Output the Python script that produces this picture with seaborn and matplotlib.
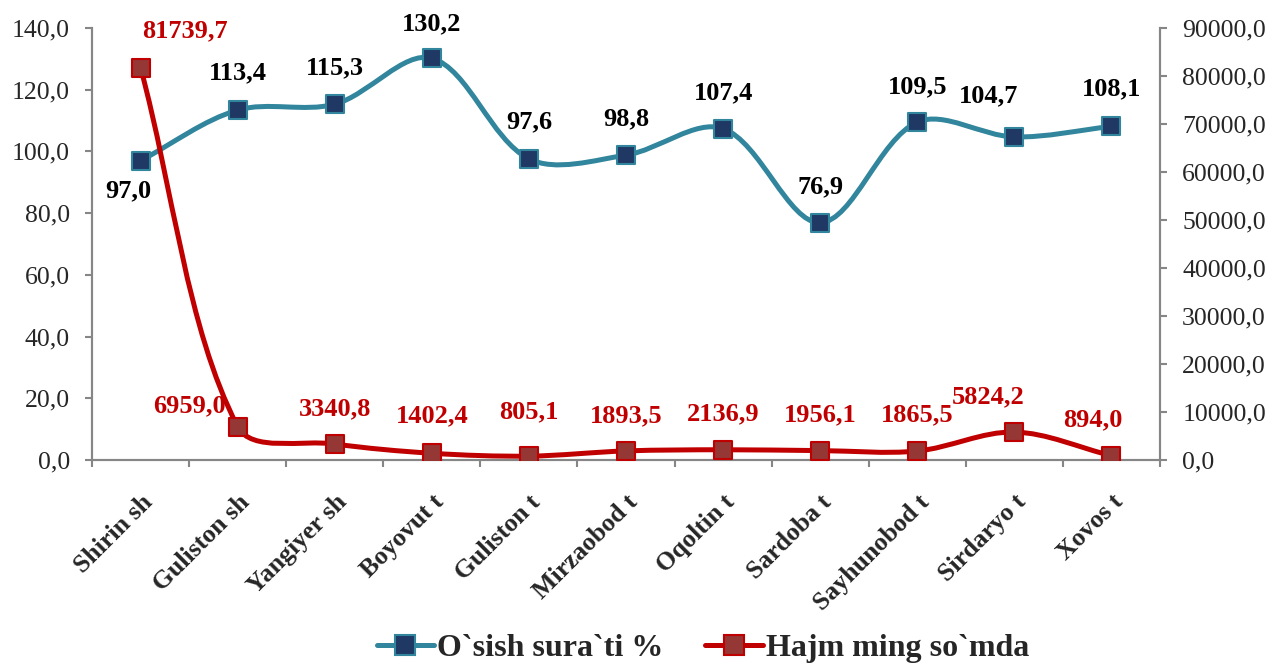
import numpy as np
import pandas as pd
import matplotlib
matplotlib.use("Agg")
import matplotlib.pyplot as plt
from matplotlib.path import Path
from matplotlib.patches import PathPatch
from matplotlib.lines import Line2D
import seaborn as sns

categories = ["Shirin sh", "Guliston sh", "Yangiyer sh", "Boyovut t", "Guliston t",
              "Mirzaobod t", "Oqoltin t", "Sardoba t", "Sayhunobod t", "Sirdaryo t", "Xovos t"]
growth = [97.0, 113.4, 115.3, 130.2, 97.6, 98.8, 107.4, 76.9, 109.5, 104.7, 108.1]
volume = [81739.7, 6959.0, 3340.8, 1402.4, 805.1, 1893.5, 2136.9, 1956.1, 1865.5, 5824.2, 894.0]
left_ticks = [0, 20, 40, 60, 80, 100, 120, 140]
right_ticks = [0, 10000, 20000, 30000, 40000, 50000, 60000, 70000, 80000, 90000]

sns.set_theme(style="white")
plt.rcParams['font.family'] = ['Liberation Serif', 'DejaVu Serif']

BLUE_LINE = "#31859C"
BLUE_FACE = "#1F3864"
RED_LINE = "#C00000"
RED_FACE = "#953735"
GRAY = "#868686"

fig = plt.figure(figsize=(12.71, 6.68), dpi=100)
ax = fig.add_axes([92/1271, 1-460/668, (1160-92)/1271, (460-28)/668])
ax2 = ax.twinx()

x = np.arange(len(categories))
ax.set_xlim(-0.5, len(categories)-0.5)
ax.set_ylim(0, 140)
ax2.set_ylim(0, 90000)


def smooth_patch(axis, xs, ys, color, lw):
    tr = axis.transData
    P = tr.transform(np.column_stack([xs, ys]))
    n = len(P)
    verts = [P[0]]
    codes = [Path.MOVETO]
    for i in range(n - 1):
        p0 = P[i - 1] if i > 0 else P[i]
        p1 = P[i]
        p2 = P[i + 1]
        p3 = P[i + 2] if i + 2 < n else P[i + 1]
        d01 = np.linalg.norm(p1 - p0)
        d12 = np.linalg.norm(p2 - p1)
        d23 = np.linalg.norm(p3 - p2)
        f1 = d12 / (d01 + d12) if (d01 + d12) > 0 else 0.5
        f2 = d12 / (d12 + d23) if (d12 + d23) > 0 else 0.5
        c1 = p1 + (p2 - p0) / 3.0 * f1
        c2 = p2 - (p3 - p1) / 3.0 * f2
        verts += [c1, c2, p2]
        codes += [Path.CURVE4] * 3
    verts = tr.inverted().transform(np.array(verts))
    patch = PathPatch(Path(verts, codes), facecolor="none", edgecolor=color,
                      lw=lw, capstyle="round", joinstyle="round", zorder=2)
    axis.add_patch(patch)


LW = 3.6
MS = 13

smooth_patch(ax, x, growth, BLUE_LINE, LW)
df1 = pd.DataFrame({"x": x, "y": growth})
sns.scatterplot(data=df1, x="x", y="y", ax=ax, marker="s", s=MS**2,
                color=BLUE_FACE, edgecolor=BLUE_LINE, linewidth=1.5, zorder=3, legend=False)

smooth_patch(ax2, x, volume, RED_LINE, LW)
df2 = pd.DataFrame({"x": x, "y": volume})
sns.scatterplot(data=df2, x="x", y="y", ax=ax2, marker="s", s=MS**2,
                color=RED_FACE, edgecolor=RED_LINE, linewidth=1.5, zorder=3, legend=False)

ax.set_xlim(-0.5, len(categories)-0.5)
ax.set_ylim(0, 140)
ax2.set_ylim(0, 90000)

fmt = lambda v: f"{v:.1f}".replace(".", ",")

# ticks
ax.set_yticks(left_ticks)
ax.set_yticklabels([fmt(v) for v in left_ticks], fontsize=18.5)
ax2.set_yticks(right_ticks)
ax2.set_yticklabels([fmt(v) for v in right_ticks], fontsize=18.5)
ax.set_xticks(x)
ax.set_xticklabels(categories, rotation=45, ha="right", va="top", rotation_mode="anchor",
                   fontsize=18.5, fontweight="bold")
ax.set_xticks(np.arange(-0.5, len(categories)), minor=True)
ax.tick_params(axis="x", which="major", length=0, pad=22)
ax.tick_params(axis="x", which="minor", length=5, color=GRAY, width=1.5, direction="out", bottom=True)
ax.tick_params(axis="y", length=5, color=GRAY, width=1.5, direction="out", left=True, pad=11)
ax2.tick_params(axis="y", length=5, color=GRAY, width=1.5, direction="out", right=True, pad=11)
ax.set_xlabel("")
ax.set_ylabel("")
ax2.set_xlabel("")
ax2.set_ylabel("")

for a in (ax, ax2):
    a.spines["top"].set_visible(False)
    for s in ("left", "right", "bottom"):
        a.spines[s].set_color(GRAY)
        a.spines[s].set_linewidth(1.5)
ax.grid(False)
ax2.grid(False)

blue_off = [(-12, -30), (0, 37), (0, 36), (0, 34), (0, 37), (0, 36), (0, 36), (0, 36),
            (0, 35), (-26, 41), (0, 38)]
for xi, yi, (dx, dy) in zip(x, growth, blue_off):
    ax.annotate(fmt(yi), (xi, yi), xytext=(dx, dy), textcoords="offset pixels",
                ha="center", va="center", fontsize=19, fontweight="bold", color="black", zorder=5)

red_off = [(44, 37), (-48, 21), (0, 35), (0, 37), (0, 44), (0, 35), (0, 36), (0, 36),
           (0, 36), (-26, 35), (-19, 36)]
for xi, yi, (dx, dy) in zip(x, volume, red_off):
    ax2.annotate(fmt(yi), (xi, yi), xytext=(dx, dy), textcoords="offset pixels",
                 ha="center", va="center", fontsize=19, fontweight="bold", color=RED_LINE, zorder=5)

handles = [
    Line2D([], [], color=BLUE_LINE, lw=LW, marker="s", markersize=14,
           markerfacecolor=BLUE_FACE, markeredgecolor=BLUE_LINE, markeredgewidth=1.5),
    Line2D([], [], color=RED_LINE, lw=LW, marker="s", markersize=14,
           markerfacecolor=RED_FACE, markeredgecolor=RED_LINE, markeredgewidth=1.5),
]
fig.legend(handles, ["O`sish sura`ti %", "Hajm ming so`mda"], loc="center",
           bbox_to_anchor=(703/1271, 1-648/668), ncol=2, frameon=False,
           prop={"size": 23, "weight": "bold"}, handlelength=1.8, columnspacing=1.3,
           handletextpad=0.1)

fig.savefig("out.png", dpi=100)
